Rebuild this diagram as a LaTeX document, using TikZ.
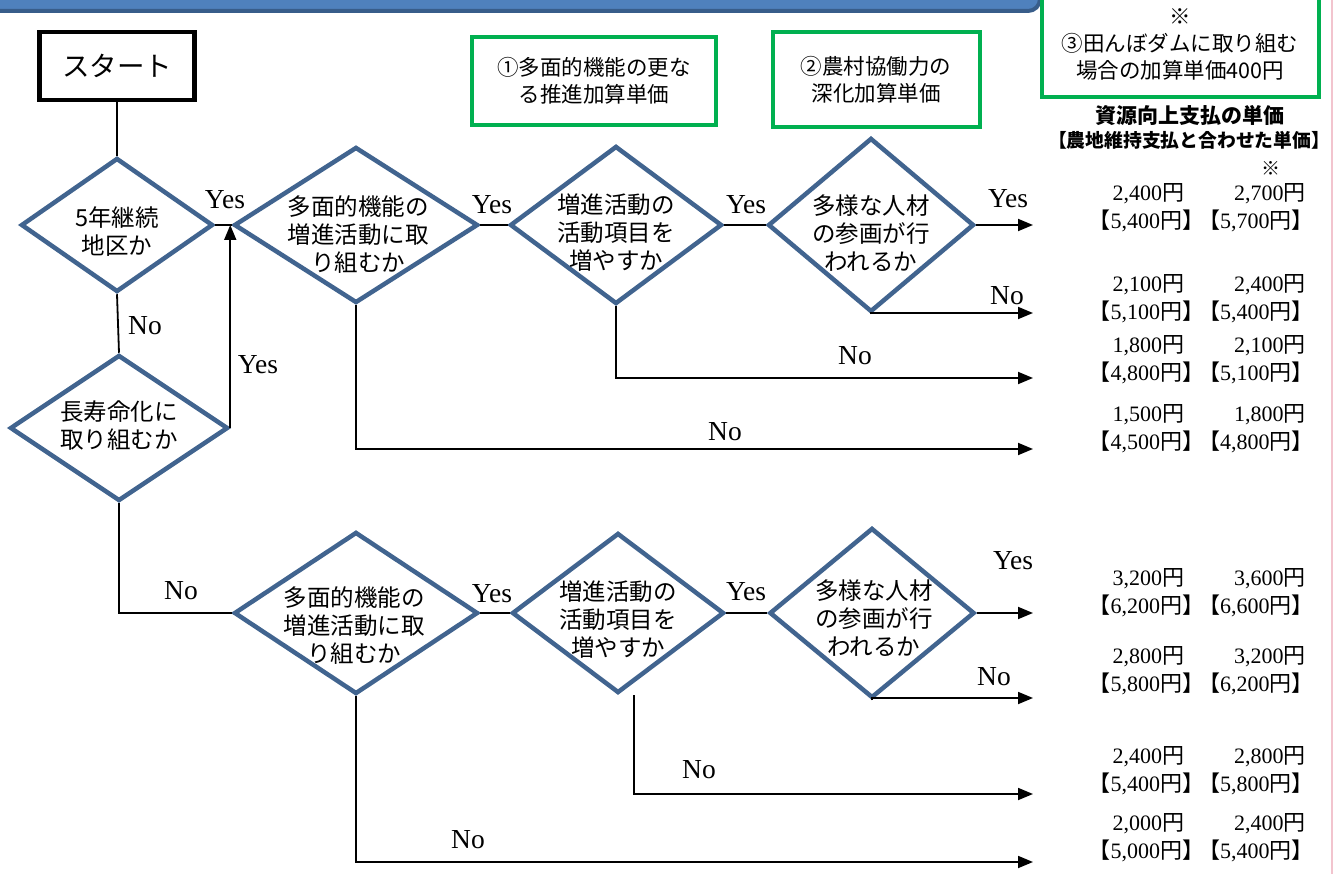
\documentclass[tikz,border=0pt]{standalone}
\usepackage{fontspec}
\setmainfont{Liberation Serif}
\newfontfamily\jpfont{Noto Sans CJK JP}
\usetikzlibrary{shapes.geometric,arrows.meta}

\definecolor{dblue}{RGB}{65,100,143}
\definecolor{boxgreen}{RGB}{0,176,80}
\definecolor{bannerblue}{RGB}{79,129,189}
\definecolor{bannerdark}{RGB}{56,93,138}
\definecolor{edgepink}{RGB}{242,196,206}

\newcommand{\yenj}{{\jpfont 円}}
\newcommand{\pricepair}[4]{\hspace*{16pt}#1\yenj\hspace{50pt}#2\yenj\\{\jpfont 【}#3\yenj{\jpfont 】\hspace{-6pt}【}#4\yenj{\jpfont 】}}

\begin{document}
\begin{tikzpicture}[x=1pt,y=1pt,yscale=-1,
  decision/.style={diamond, draw=dblue, line width=4.5, inner sep=0pt},
  dtext/.style={font=\jpfont\fontsize{23.5}{28}\selectfont, align=center},
  gbox/.style={draw=boxgreen, line width=4, align=center, inner sep=0pt, font=\jpfont\fontsize{21.5}{27}\selectfont},
  flow/.style={line width=1.8},
  arrow/.style={flow, -{Triangle[length=15pt,width=12pt]}},
  yn/.style={font=\fontsize{27.5}{30}\selectfont},
  price/.style={font=\fontsize{22}{28}\selectfont, align=center}]
\useasboundingbox (0,0) rectangle (1336,874);

%Shape: Banner
\draw [fill=bannerblue, draw=bannerdark, line width=4, rounded corners=12] (-20,-20) rectangle (1040,11);
%Straight Lines: right margin
\draw [edgepink, line width=1.5] (1332,0) -- (1332,874);

%Shape: Start
\node [draw, line width=4.5, minimum width=155, minimum height=68, font=\jpfont\fontsize{27.5}{30}\selectfont] (start) at (117,66) {スタート};

%Shape: Green boxes
\node [gbox, minimum width=244, minimum height=88] (add1) at (594,81) {①多面的機能の更な\\る推進加算単価};
\node [gbox, minimum width=207, minimum height=95] (add2) at (876,80) {②農村協働力の\\深化加算単価};
\node [gbox, minimum width=277, minimum height=106] (add3) at (1180,44) {※\\③田んぼダムに取り組む\\場合の加算単価400円};

% Text Node
\node [font=\jpfont\bfseries\fontsize{21}{24}\selectfont] (head1) at (1190,116) {資源向上支払の単価};
% Text Node
\node [font=\jpfont\bfseries\fontsize{18.8}{24}\selectfont] (head2) at (1189,140) {【農地維持支払と合わせた単価】};

%Shape: Diamonds, upper row
\node [decision, minimum width=192, minimum height=134] (d1) at (117,225) {};
\node [decision, minimum width=244, minimum height=156] (d2) at (356,225) {};
\node [decision, minimum width=218, minimum height=146] (d3) at (119,428) {};
\node [decision, minimum width=212, minimum height=158] (d4) at (616,225) {};
\node [decision, minimum width=206, minimum height=174] (d5) at (871,225) {};
%Shape: Diamonds, lower row
\node [decision, minimum width=244, minimum height=162] (d6) at (356,613) {};
\node [decision, minimum width=212, minimum height=160] (d7) at (618,613) {};
\node [decision, minimum width=205, minimum height=170] (d8) at (872,613) {};

% Text Node
\node [dtext] (d1t) at (117,232) {5年継続\\地区か};
\node [dtext] (d2t) at (358,235) {多面的機能の\\増進活動に取\\り組むか};
\node [dtext] (d3t) at (119,426) {長寿命化に\\取り組むか};
\node [dtext] (d4t) at (616,233) {増進活動の\\活動項目を\\増やすか};
\node [dtext] (d5t) at (871,233) {多様な人材\\の参画が行\\われるか};
\node [dtext] (d6t) at (354,626) {多面的機能の\\増進活動に取\\り組むか};
\node [dtext] (d7t) at (618,620) {増進活動の\\活動項目を\\増やすか};
\node [dtext] (d8t) at (874,618) {多様な人材\\の参画が行\\われるか};

%Arrow ends
\coordinate (p1) at (1033,225);
\coordinate (p2) at (1033,313);
\coordinate (p3) at (1033,378);
\coordinate (p4) at (1033,449);
\coordinate (p5) at (1033,613);
\coordinate (p6) at (1033,698);
\coordinate (p7) at (1033,794);
\coordinate (p8) at (1033,862);

%Straight Lines
\draw [flow] (start.south) -- (d1.north);
\draw [flow] (d1.east) -- (d2.west);
\draw [flow] (d1.south) -- (d3.north);
\draw [arrow] (d3.east) -- (d3.east |- d1.east);
\draw [flow] (d2.east) -- (d4.west);
\draw [flow] (d4.east) -- (d5.west);
\draw [arrow] (d5.east) -- (p1);
\draw [arrow] (d5.south) |- (p2);
\draw [arrow] (d4.south) |- (p3);
\draw [arrow] (d2.south) |- (p4);
\draw [flow] (d3.south) |- (d6.west);
\draw [flow] (d6.east) -- (d7.west);
\draw [flow] (d7.east) -- (d8.west);
\draw [arrow] (d8.east) -- (p5);
\draw [arrow] (d8.south) |- (p6);
\draw [arrow] ([xshift=16pt]d7.south) |- (p7);
\draw [arrow] (d6.south) |- (p8);

% Text Node
\node [yn] (y1) at (225,200) {Yes};
\node [yn] (y2) at (258,365) {Yes};
\node [yn] (n1) at (145,326) {No};
\node [yn] (y3) at (492,205) {Yes};
\node [yn] (y4) at (746,205) {Yes};
\node [yn] (y5) at (1008,199) {Yes};
\node [yn] (n2) at (1007,296) {No};
\node [yn] (n3) at (855,356) {No};
\node [yn] (n4) at (725,432) {No};
\node [yn] (n5) at (181,591) {No};
\node [yn] (y6) at (492,594) {Yes};
\node [yn] (y7) at (746,592) {Yes};
\node [yn] (y8) at (1013,561) {Yes};
\node [yn] (n6) at (994,677) {No};
\node [yn] (n7) at (699,770) {No};
\node [yn] (n8) at (468,840) {No};

% Text Node
\node [font=\jpfont\fontsize{19}{22}\selectfont] (mark) at (1271,168) {※};
\node [price] (v1) at (1201,208) {\pricepair{2,400}{2,700}{5,400}{5,700}};
\node [price] (v2) at (1201,299) {\pricepair{2,100}{2,400}{5,100}{5,400}};
\node [price] (v3) at (1201,360) {\pricepair{1,800}{2,100}{4,800}{5,100}};
\node [price] (v4) at (1201,429) {\pricepair{1,500}{1,800}{4,500}{4,800}};
\node [price] (v5) at (1201,593) {\pricepair{3,200}{3,600}{6,200}{6,600}};
\node [price] (v6) at (1201,671) {\pricepair{2,800}{3,200}{5,800}{6,200}};
\node [price] (v7) at (1201,771) {\pricepair{2,400}{2,800}{5,400}{5,800}};
\node [price] (v8) at (1201,838) {\pricepair{2,000}{2,400}{5,000}{5,400}};

\end{tikzpicture}
\end{document}
